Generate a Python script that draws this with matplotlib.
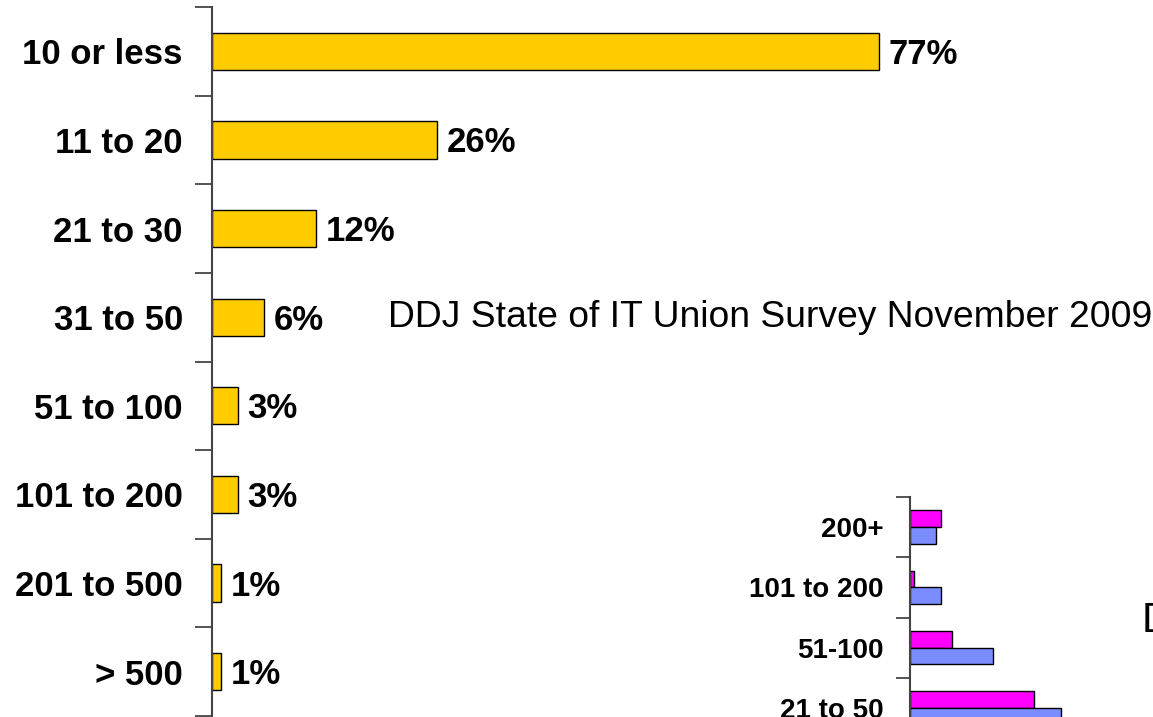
import matplotlib
matplotlib.use("Agg")
import matplotlib.pyplot as plt
import numpy as np

plt.rcParams['font.family'] = ['Liberation Sans', 'DejaVu Sans']

# main chart: company size (employees) vs share of respondents
sizes = ['10 or less', '11 to 20', '21 to 30', '31 to 50',
         '51 to 100', '101 to 200', '201 to 500', '> 500']
shares = [77, 26, 12, 6, 3, 3, 1, 1]

# inset chart (partly cut off in the original picture)
inset_cats = ['200+', '101 to 200', '51-100', '21 to 50']
inset_pink = [10.2, 1.4, 14, 41.3]
inset_blue = [8.6, 10.2, 27.6, 50.2]

title = 'DDJ State of IT Union Survey November 2009'

W, H = 1153, 717
fig = plt.figure(figsize=(W / 100, H / 100), dpi=100)


def style_axis(ax, n, tick_len, pad):
    # ticks sit on band edges, labels in band centres
    for s in ['top', 'right', 'bottom']:
        ax.spines[s].set_visible(False)
    ax.spines['left'].set_color('#444444')
    ax.spines['left'].set_linewidth(1.5)
    ax.set_ylim(n - 0.5, -0.5)
    ax.set_yticks(np.arange(n + 1) - 0.5)
    ax.set_yticklabels([])
    ax.tick_params(axis='y', which='major', length=tick_len, width=1.3, color='#444444')
    ax.set_yticks(np.arange(n), minor=True)
    ax.tick_params(axis='y', which='minor', length=0, pad=pad)
    ax.set_xticks([])


# main axes
ax = fig.add_axes([212 / W, 1 / H, 866 / W, 709 / H])
y = np.arange(len(sizes))
ax.barh(y, shares, height=0.42, color='#FFCC00', edgecolor='black', linewidth=1.0)
ax.set_xlim(0, 100)
style_axis(ax, len(sizes), 12, 21)
ax.set_yticklabels(sizes, minor=True, fontsize=25, fontweight='bold')
for yi, v in zip(y, shares):
    ax.annotate(f'{v}%', (v, yi), xytext=(7, -9), textcoords='offset points',
                va='baseline', ha='left', fontsize=25, fontweight='bold')

fig.text(388 / W, 1 - 327 / H, title, fontsize=26.8, va='baseline', ha='left')

# inset axes
ax2 = fig.add_axes([910 / W, 1 - 738 / H, 240 / W, 241 / H])
yi = np.arange(len(inset_cats))
ax2.barh(yi - 0.14, inset_pink, height=0.28, color='#FF00FF', edgecolor='black', linewidth=1.0)
ax2.barh(yi + 0.14, inset_blue, height=0.28, color='#7B8CFF', edgecolor='black', linewidth=1.0)
ax2.set_xlim(0, 80)
style_axis(ax2, len(inset_cats), 10, 19)
ax2.set_yticklabels(inset_cats, minor=True, fontsize=20, fontweight='bold')

fig.text(1142 / W, 1 - 632 / H, 'DDJ State of IT Union Survey', fontsize=30,
         va='baseline', ha='left')

fig.savefig('out.png', dpi=100)
